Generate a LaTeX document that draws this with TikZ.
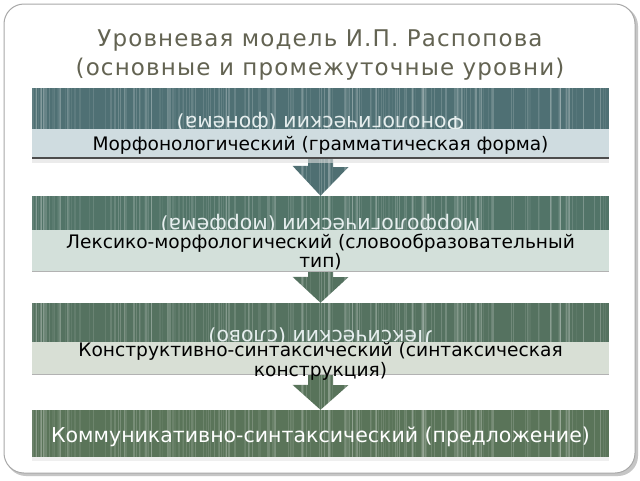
\documentclass[tikz,border=0pt]{standalone}
\usepackage{fontspec}
\usetikzlibrary{calc}
\setmainfont{DejaVu Sans}
\newfontfamily\titlefont[LetterSpace=5]{DejaVu Sans}
\definecolor{titlec}{HTML}{636352}
\definecolor{dA}{HTML}{4F7074}
\definecolor{dB}{HTML}{527468}
\definecolor{dC}{HTML}{557260}
\definecolor{dD}{HTML}{5A7459}
\definecolor{lA}{HTML}{CFDCE0}
\definecolor{lB}{HTML}{D3E0DA}
\definecolor{lC}{HTML}{D8DFD5}
\definecolor{aA}{HTML}{4F6F72}
\definecolor{aB}{HTML}{54715F}
\definecolor{aC}{HTML}{58735A}
\definecolor{framec}{HTML}{A8A8A8}
\definecolor{flipc}{HTML}{E6EEEE}
\tikzset{
  band/.style={rectangle, inner sep=0pt, minimum width=577pt, fill=#1},
  lighttext/.style={inner sep=0pt, align=center, text=black, font=\fontsize{18.6}{19.5}\selectfont},
  fliptext/.style={inner sep=0pt, rotate=180, anchor=base, text=flipc, font=\fontsize{20.5}{22}\selectfont},
}
\begin{document}
\begin{tikzpicture}[x=1pt,y=-1pt]
\useasboundingbox (0,0) rectangle (640,480);
\fill[white] (0,0) rectangle (640,480);
% frame with shadow
\fill[gray!45, rounded corners=20pt] (6,6) rectangle (638,476);
\draw[framec, fill=white, line width=1pt, rounded corners=20pt] (4,4) rectangle (635,473);
% title
\node[inner sep=0pt, align=center, text=titlec, font=\titlefont\fontsize{23}{29}\selectfont] (title) at (320,55.2)
  {Уровневая модель И.П. Распопова\\(основные и промежуточные уровни)};
% dark bands
\node[band=dA, minimum height=41pt] (d1) at (320.5,108.5) {};
\node[band=dB, minimum height=34pt] (d2) at (320.5,213) {};
\node[band=dC, minimum height=39pt] (d3) at (320.5,322.5) {};
\node[band=dD, minimum height=47pt] (d4) at (320.5,433.5) {};
% light band bottoms
\coordinate (l1s) at (320.5,157);
\coordinate (l2s) at (320.5,271);
\coordinate (l3s) at (320.5,374);
% arrows
\fill[aA] ($(l1s)+(-12.5,0)$) -- ++(25,0) -- ++(0,10) -- ++(15.5,0) -- (d2.north) -- ++(-28,-30) -- ++(15.5,0) -- cycle;
\fill[aB] ($(l2s)+(-12.5,0)$) -- ++(25,0) -- ++(0,6) -- ++(15.5,0) -- (d3.north) -- ++(-28,-26) -- ++(15.5,0) -- cycle;
\fill[aC] ($(l3s)+(-12.5,0)$) -- ++(25,0) -- ++(0,11) -- ++(15.5,0) -- (d4.north) -- ++(-28,-25) -- ++(15.5,0) -- cycle;
% stripes
\begin{scope}
  \clip (d1.north west) rectangle (d1.south east)
        (d2.north west) rectangle (d2.south east)
        (d3.north west) rectangle (d3.south east)
        (d4.north west) rectangle (d4.south east)
        (292,157) rectangle (349,196)
        (292,271) rectangle (349,303)
        (292,374) rectangle (349,410);
  \pgfmathsetseed{11}
  \foreach \i in {1,...,230}{
    \pgfmathsetmacro\xx{32+577*rnd}
    \pgfmathsetmacro\ww{0.5+1.2*rnd}
    \pgfmathsetmacro\oo{0.05+0.14*rnd}
    \fill[white, opacity=\oo] (\xx,80) rectangle ++(\ww,390);
  }
\end{scope}
% flipped texts
\node[fliptext] (f1) at (320.5,116) {Фонологический (фонема)};
\node[fliptext] (f2) at (320.5,218.5) {Морфологический (морфема)};
\node[fliptext] (f3) at (320.5,330.5) {Лексический (слово)};
% light bands
\node[band=lA, minimum height=28pt] (l1) at (320.5,143) {};
\node[band=lB, minimum height=41pt] (l2) at (320.5,250.5) {};
\node[band=lC, minimum height=32pt] (l3) at (320.5,358) {};
% band bottom lines
\fill[black!70] (l1.south west) rectangle ($(l1.south east)+(0,1.6)$);
\fill[gray!25, opacity=0.6] ($(l1.south west)+(0,1.6)$) rectangle ($(l1.south east)+(0,6)$);
\fill[gray!60] (l2.south west) rectangle ($(l2.south east)+(0,1)$);
\fill[gray!60] (l3.south west) rectangle ($(l3.south east)+(0,1)$);
\fill[gray!20, opacity=0.6] (d4.south west) rectangle ($(d4.south east)+(0,4)$);
% texts
\node[lighttext, anchor=base] (t1) at (320.5,150) {Морфонологический (грамматическая форма)};
\node[lighttext] (t2) at (320.5,252.2) {Лексико-морфологический (словообразовательный\\тип)};
\node[lighttext] (t3) at (320.5,361.2) {Конструктивно-синтаксический (синтаксическая\\конструкция)};
\node[inner sep=0pt, anchor=base, text=white, font=\fontsize{20.5}{24}\selectfont] (t4) at (320.5,442) {Коммуникативно-синтаксический (предложение)};
\end{tikzpicture}
\end{document}
